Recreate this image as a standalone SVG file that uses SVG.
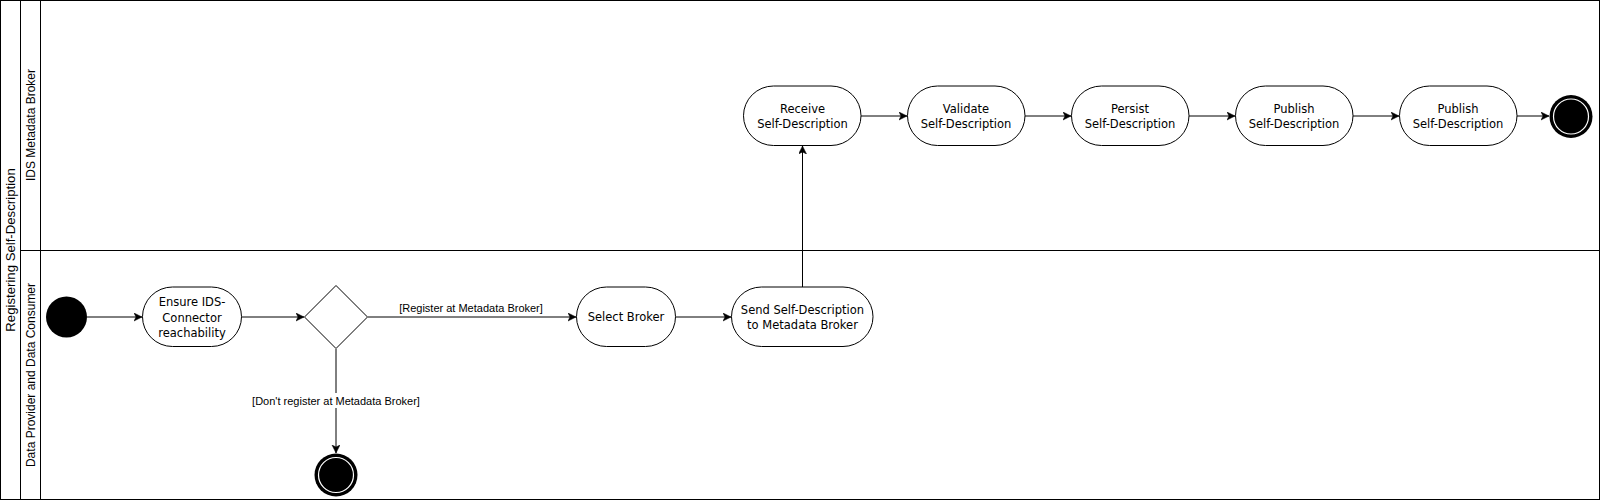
<svg xmlns="http://www.w3.org/2000/svg" width="1602" height="502" viewBox="0 0 1602 502">
<style>
.ln{stroke:#000;stroke-width:1;fill:none}
.node{fill:#fff;stroke:#000;stroke-width:1}
.t{font-family:"DejaVu Sans",Verdana,sans-serif;font-size:11.5px;fill:#000;text-anchor:middle}
.lt{font-family:"Liberation Sans",Arial,sans-serif;font-size:12px;fill:#000;text-anchor:middle}
.el{font-family:"Liberation Sans",Arial,sans-serif;font-size:11px;fill:#000;text-anchor:middle}
.c{stroke:#000;stroke-width:1;fill:none;marker-end:url(#arr)}
</style>
<defs>
<marker id="arr" markerUnits="userSpaceOnUse" markerWidth="10" markerHeight="10" refX="8" refY="4" orient="auto">
<path d="M0,0 L8,4 L0,8 L2,4 z" fill="#000" stroke="#000" stroke-width="0.5"/>
</marker>
</defs>
<rect width="1602" height="502" fill="#fff"/>
<g id="pool">
<rect class="ln" x="0.5" y="0.5" width="1599" height="499"/>
<line class="ln" x1="20.5" y1="0.5" x2="20.5" y2="499.5"/>
<line class="ln" x1="40.5" y1="0.5" x2="40.5" y2="499.5"/>
<line class="ln" x1="20.5" y1="250.5" x2="1599.5" y2="250.5"/>
<text class="lt" style="font-size:13.2px" transform="translate(14.5,250) rotate(-90)">Registering Self-Description</text>
<text class="lt" transform="translate(34.5,125) rotate(-90)">IDS Metadata Broker</text>
<text class="lt" transform="translate(34.5,375) rotate(-90)">Data Provider and Data Consumer</text>
</g>
<g id="connectors">
<line class="c" x1="87" y1="317" x2="142" y2="317"/>
<line class="c" x1="242" y1="317" x2="304" y2="317"/>
<line class="c" x1="368" y1="317" x2="576" y2="317"/>
<text class="el" x="471" y="312">[Register at Metadata Broker]</text>
<line class="c" x1="336" y1="349" x2="336" y2="453"/>
<rect x="250" y="393" width="172" height="15" fill="#fff"/>
<text class="el" x="336" y="405">[Don't register at Metadata Broker]</text>
<line class="c" x1="676" y1="317" x2="731" y2="317"/>
<line class="c" x1="802.5" y1="287" x2="802.5" y2="146"/>
<line class="c" x1="861" y1="116" x2="907" y2="116"/>
<line class="c" x1="1025" y1="116" x2="1071" y2="116"/>
<line class="c" x1="1189" y1="116" x2="1235" y2="116"/>
<line class="c" x1="1353" y1="116" x2="1399" y2="116"/>
<line class="c" x1="1517" y1="116" x2="1549" y2="116"/>
</g>
<g id="start">
<circle cx="66.5" cy="317" r="20.5" fill="#000"/>
</g>
<g id="ensure">
<rect class="node" x="142.5" y="287" width="99" height="59.5" rx="30" ry="29.75"/>
<text class="t" x="192" y="305.5">Ensure IDS-</text>
<text class="t" x="192" y="321.5">Connector</text>
<text class="t" x="192" y="337">reachability</text>
</g>
<g id="decision">
<path class="node" d="M336,285.5 L367.5,317 L336,348.5 L304.5,317 Z"/>
</g>
<g id="select">
<rect class="node" x="576.5" y="287" width="99" height="59.5" rx="30" ry="29.75"/>
<text class="t" x="626" y="321">Select Broker</text>
</g>
<g id="send">
<rect class="node" x="731.5" y="287" width="141.5" height="59.5" rx="30" ry="29.75"/>
<text class="t" x="802.5" y="314">Send Self-Description</text>
<text class="t" x="802.5" y="329">to Metadata Broker</text>
</g>
<g id="receive">
<rect class="node" x="743.5" y="86" width="117.5" height="59.5" rx="30" ry="29.75"/>
<text class="t" x="802.5" y="112.5">Receive</text>
<text class="t" x="802.5" y="127.5">Self-Description</text>
</g>
<g id="validate">
<rect class="node" x="907.5" y="86" width="117.5" height="59.5" rx="30" ry="29.75"/>
<text class="t" x="966" y="112.5">Validate</text>
<text class="t" x="966" y="127.5">Self-Description</text>
</g>
<g id="persist">
<rect class="node" x="1071.5" y="86" width="117.5" height="59.5" rx="30" ry="29.75"/>
<text class="t" x="1130" y="112.5">Persist</text>
<text class="t" x="1130" y="127.5">Self-Description</text>
</g>
<g id="publish1">
<rect class="node" x="1235.5" y="86" width="117.5" height="59.5" rx="30" ry="29.75"/>
<text class="t" x="1294" y="112.5">Publish</text>
<text class="t" x="1294" y="127.5">Self-Description</text>
</g>
<g id="publish2">
<rect class="node" x="1399.5" y="86" width="117.5" height="59.5" rx="30" ry="29.75"/>
<text class="t" x="1458" y="112.5">Publish</text>
<text class="t" x="1458" y="127.5">Self-Description</text>
</g>
<g id="end-top">
<circle cx="1571" cy="116.5" r="21.5" fill="#000"/>
<circle cx="1571" cy="116.5" r="17.5" fill="none" stroke="#fff" stroke-width="1.2"/>
</g>
<g id="end-bottom">
<circle cx="336" cy="475" r="21.5" fill="#000"/>
<circle cx="336" cy="475" r="17.5" fill="none" stroke="#fff" stroke-width="1.2"/>
</g>
</svg>
